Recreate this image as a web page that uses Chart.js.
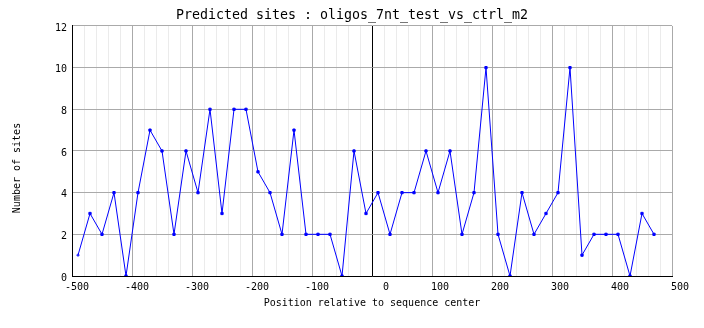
<!DOCTYPE html>
<html>
<head>
<meta charset="utf-8">
<script src="https://cdn.jsdelivr.net/npm/chart.js@4"></script>
<style>
    body { margin: 0; background: #fff; }
</style>
</head>
<body>
<canvas id="sitesChart" width="704" height="328"></canvas>
<script>
// bin centres (position relative to sequence center)
const positions = [-490, -470, -450, -430, -410, -390, -370, -350, -330, -310,
    -290, -270, -250, -230, -210, -190, -170, -150, -130, -110,
    -90, -70, -50, -30, -10, 10, 30, 50, 70, 90,
    110, 130, 150, 170, 190, 210, 230, 250, 270, 290,
    310, 330, 350, 370, 390, 410, 430, 450, 470];
const sites = [1, 3, 2, 4, 0, 4, 7, 6, 2, 6,
    4, 8, 3, 8, 8, 5, 4, 2, 7, 2,
    2, 2, 0, 6, 3, 4, 2, 4, 4, 6,
    4, 6, 2, 4, 10, 2, 0, 4, 2, 3,
    4, 10, 1, 2, 2, 2, 0, 3, 2];
const xTickLabels = [-500, -400, -300, -200, -100, 0, 100, 200, 300, 400, 500];

const mono = "'DejaVu Sans Mono', 'Liberation Mono', monospace";

// y title sits a bit below the middle in the original, so draw it by hand
const yTitle = {
    id: 'yTitle',
    afterDraw(chart) {
        const ctx = chart.ctx;
        ctx.save();
        ctx.translate(17, 168);
        ctx.rotate(-Math.PI / 2);
        ctx.font = '10px ' + mono;
        ctx.fillStyle = '#000';
        ctx.textAlign = 'center';
        ctx.textBaseline = 'middle';
        ctx.fillText('Number of sites', 0, 0);
        ctx.restore();
    }
};

const ctx = document.getElementById('sitesChart').getContext('2d');
new Chart(ctx, {
    type: 'line',
    data: {
        datasets: [{
            label: 'sites',
            data: positions.map((p, i) => ({ x: p, y: sites[i] })),
            borderColor: '#0000ff',
            borderWidth: 1,
            tension: 0,
            fill: false,
            pointStyle: sites.map((v, i) => i === 0 ? 'cross' : 'rect'),
            pointRadius: 1.6,
            pointBorderWidth: 1,
            pointBackgroundColor: '#0000ff',
            pointBorderColor: '#0000ff'
        }]
    },
    options: {
        responsive: false,
        animation: false,
        layout: { padding: 0 },
        plugins: {
            legend: { display: false },
            tooltip: { enabled: false },
            title: {
                display: true,
                text: 'Predicted sites : oligos_7nt_test_vs_ctrl_m2',
                color: '#000',
                font: { family: mono, size: 13.3, weight: 'normal' },
                padding: { top: 8, bottom: 2 }
            }
        },
        scales: {
            x: {
                type: 'linear',
                min: -500,
                max: 500,
                afterFit: s => { s.height = 52; },
                grid: {
                    drawTicks: false,
                    color: c => c.tick.value === 0 ? '#000' : (c.tick.value % 100 === 0 ? '#aaaaaa' : '#ebebeb')
                },
                border: { color: '#000' },
                ticks: {
                    stepSize: 20,
                    autoSkip: false,
                    maxRotation: 0,
                    align: 'end',
                    labelOffset: 17,
                    padding: 5,
                    color: '#000',
                    font: { family: mono, size: 10 },
                    callback: v => xTickLabels.includes(v) ? String(v) : ''
                },
                title: {
                    display: true,
                    text: 'Position relative to sequence center',
                    color: '#000',
                    font: { family: mono, size: 10 },
                    padding: { top: 0, bottom: 19 }
                }
            },
            y: {
                min: 0,
                max: 12,
                afterFit: s => { s.width = 72; },
                grid: { drawTicks: false, color: '#aaaaaa' },
                border: { color: '#000' },
                ticks: {
                    stepSize: 2,
                    padding: 5,
                    labelOffset: 2,
                    color: '#000',
                    font: { family: mono, size: 10 }
                }
            },
            // empty margin on the right so the title centres on the whole canvas
            yRight: {
                position: 'right',
                afterFit: s => { s.width = 32; },
                grid: { display: false, drawTicks: false },
                border: { display: false },
                ticks: { display: false }
            }
        }
    },
    plugins: [yTitle]
});
</script>
</body>
</html>
